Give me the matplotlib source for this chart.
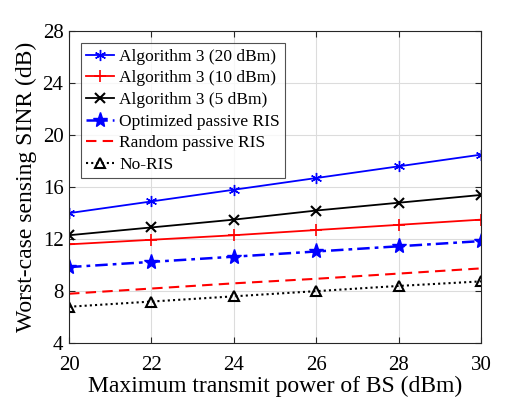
import matplotlib
matplotlib.use("Agg")
import matplotlib.pyplot as plt
import numpy as np

power = [20, 22, 24, 26, 28, 30]
alg_20 = [14.0, 14.9, 15.8, 16.7, 17.6, 18.5]
alg_10 = [11.6, 11.95, 12.3, 12.7, 13.1, 13.5]
alg_5 = [12.3, 12.9, 13.5, 14.2, 14.8, 15.4]
opt_passive = [9.85, 10.25, 10.65, 11.05, 11.45, 11.85]
rand_passive = [7.8, 8.2, 8.6, 8.95, 9.35, 9.75]
no_ris = [6.8, 7.2, 7.6, 8.0, 8.4, 8.75]
xticks = [20, 22, 24, 26, 28, 30]
yticks = [4, 8, 12, 16, 20, 24, 28]

plt.rcParams['font.family'] = ['Liberation Serif', 'DejaVu Serif']
plt.rcParams['mathtext.fontset'] = 'stix'

fig = plt.figure(figsize=(5.31, 3.99), dpi=100)
ax = fig.add_axes([0.130, 0.140, 0.776, 0.782])

asterisk = (6, 2, 0)
ax.plot(power, alg_20, color='#0000ff', lw=1.3, marker=asterisk, ms=8, mew=1.0,
        label='Algorithm 3 (20 dBm)')
ax.plot(power, alg_10, color='#ff0000', lw=1.3, marker='+', ms=9, mew=1.2,
        label='Algorithm 3 (10 dBm)')
ax.plot(power, alg_5, color='black', lw=1.3, marker='x', ms=7, mew=1.5,
        label='Algorithm 3 (5 dBm)')
ax.plot(power, opt_passive, color='#0000ff', lw=1.8, ls=(0, (5, 2, 1.5, 2)), marker='*', ms=11,
        label='Optimized passive RIS')
ax.plot(power, rand_passive, color='#ff0000', lw=1.5, ls=(0, (5, 3)),
        label='Random passive RIS')
ax.plot(power, no_ris, color='black', lw=1.5, ls=(0, (1, 1.5)), marker='^', ms=7,
        mfc='none', mew=1.5, label='No-RIS')

ax.set_xlim(20, 30)
ax.set_ylim(4, 28)
ax.set_xticks(xticks)
ax.set_yticks(yticks)
ax.grid(True, color='#dcdcdc', lw=0.8)
ax.set_axisbelow(True)
ax.tick_params(direction='in', labelsize=15, length=4, top=True, right=True, color='#262626')
ax.tick_params(axis='x', pad=9)
ax.tick_params(axis='y', pad=4)
for s in ax.spines.values():
    s.set_color('#262626')
    s.set_linewidth(0.8)
ax.set_xlabel('Maximum transmit power of BS (dBm)', fontsize=17, labelpad=1)
ax.set_ylabel('Worst-case sensing SINR (dB)', fontsize=17, labelpad=4)

leg = ax.legend(loc='upper left', fontsize=12.5, frameon=True, fancybox=False,
                edgecolor='#262626', handlelength=1.6, handletextpad=0.3,
                labelspacing=0.32, borderpad=0.3, borderaxespad=0.7)
leg.get_frame().set_linewidth(0.8)

fig.savefig('out.png', dpi=100)
